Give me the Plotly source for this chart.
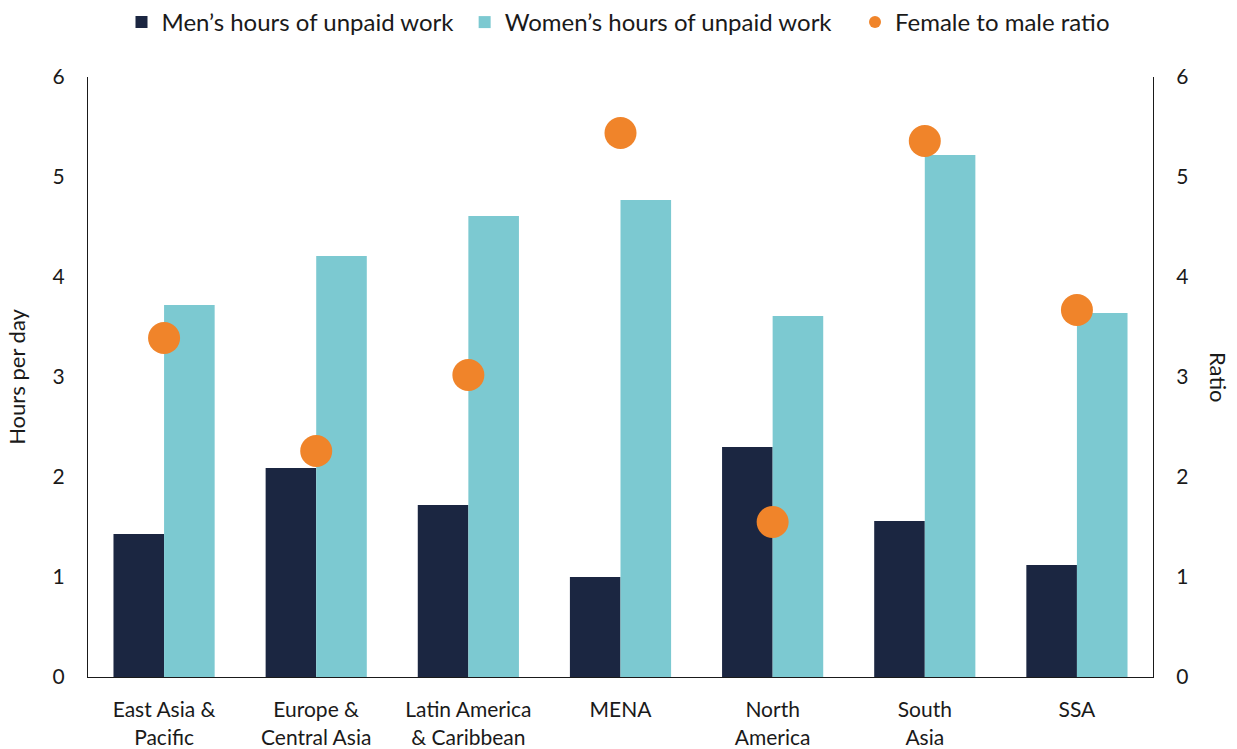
import plotly.graph_objects as go

categories = ["East Asia &<br>Pacific", "Europe &<br>Central Asia", "Latin America<br>& Caribbean",
              "MENA", "North<br>America", "South<br>Asia", "SSA"]
men_hours = [1.43, 2.09, 1.72, 1.00, 2.30, 1.56, 1.12]
women_hours = [3.72, 4.21, 4.61, 4.77, 3.61, 5.22, 3.64]
ratio = [3.39, 2.26, 3.02, 5.44, 1.55, 5.36, 3.67]

FONT = "Lato, Open Sans, sans-serif"
TXT = "#1a1a1a"
NB = "\u00a0"

fig = go.Figure()
fig.add_trace(go.Bar(x=categories, y=men_hours, name="Men’s hours of unpaid work" + NB,
                     marker=dict(color="#1B2641", line=dict(width=0)), offsetgroup="m"))
fig.add_trace(go.Bar(x=categories, y=women_hours, name="Women’s hours of unpaid work" + NB * 3,
                     marker=dict(color="#7CC9D1", line=dict(width=0)), offsetgroup="w"))
fig.add_trace(go.Scatter(x=categories, y=ratio, name="Female to male ratio", mode="markers",
                         yaxis="y2", marker=dict(color="#F0842A", size=32)))

fig.update_layout(
    width=1237, height=749,
    margin=dict(l=88, r=84, t=77, b=72),
    paper_bgcolor="white", plot_bgcolor="white",
    font=dict(family=FONT, color=TXT, size=20),
    barmode="group", bargap=0.335, bargroupgap=0,
    showlegend=True,
    legend=dict(orientation="h", x=0.5, xanchor="center", y=1, yanchor="top",
                yref="container", xref="container", font=dict(size=24, family=FONT, color=TXT),
                itemsizing="constant", traceorder="normal"),
    xaxis=dict(showline=True, linecolor="#1a1a1a", linewidth=1.2, showgrid=False,
               ticks="", tickfont=dict(size=21), automargin=False, ticklabelstandoff=14),
    yaxis=dict(range=[0, 6], dtick=1, showgrid=False, zeroline=False,
               showline=True, linecolor="#1a1a1a", linewidth=1.2, automargin=False,
               tickfont=dict(size=21), ticklabelstandoff=18,
               title=dict(text="Hours per day", font=dict(size=22), standoff=20)),
    yaxis2=dict(range=[0, 6], dtick=1, overlaying="y", side="right", showgrid=False,
                zeroline=False, showline=True, linecolor="#1a1a1a", linewidth=1.2,
                automargin=False, tickfont=dict(size=21), ticklabelstandoff=18),
    annotations=[dict(text="Ratio", x=(1219 - 88) / (1237 - 88 - 84), y=0.5,
                      xref="paper", yref="paper", xanchor="center",
                      showarrow=False, textangle=90,
                      font=dict(size=22, family=FONT, color=TXT))],
)
fig.write_html("out.html", config={"displayModeBar": False},
               post_script="document.body.style.margin='0';document.body.style.overflow='hidden';")
